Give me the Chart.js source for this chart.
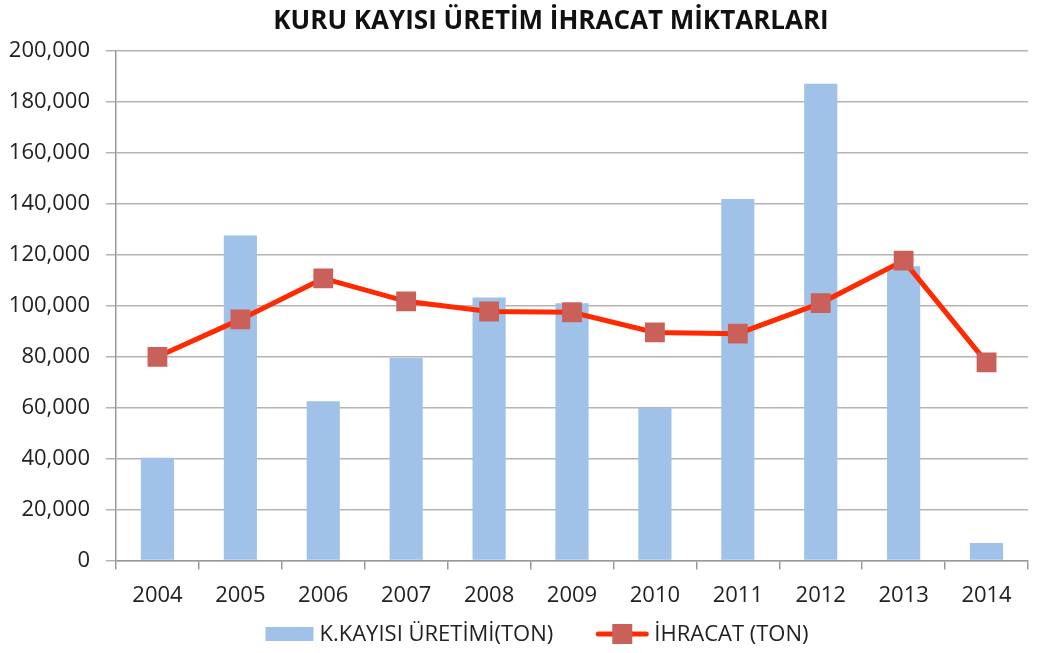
<!DOCTYPE html>
<html><head><meta charset="utf-8">
<script src="https://cdn.jsdelivr.net/npm/chart.js@4.4.0/dist/chart.umd.min.js"></script>
<style>html,body{margin:0;padding:0;background:#fff}#wrap{width:1042px;height:653px}</style>
</head><body><div id="wrap"><canvas id="c" width="1042" height="653"></canvas></div>
<script>
const years = ['2004','2005','2006','2007','2008','2009','2010','2011','2012','2013','2014'];
const uretim = [40400, 127600, 62600, 79500, 103300, 101000, 59900, 142000, 187200, 115600, 6900];
const ihracat = [80000, 94700, 110800, 101800, 97800, 97500, 89600, 89100, 101100, 117800, 77800];
const yTicks = [0,20000,40000,60000,80000,100000,120000,140000,160000,180000,200000];
const seriesNames = ['K.KAYISI ÜRETİMİ(TON)', 'İHRACAT (TON)'];
const titleText = 'KURU KAYISI ÜRETİM İHRACAT MİKTARLARI';

const BAR = '#a0c2e8', LINE = '#ff2a00', MARK = '#c9605a';
const FONT = "'Open Sans', 'DejaVu Sans', sans-serif";

const shiftTitle = {
  id: 'shiftTitle',
  afterLayout(chart) {
    const t = chart.titleBlock;
    if (t) { t.left += 36; t.right += 36; }
  }
};
const customLegend = {
  id: 'customLegend',
  afterDraw(chart) {
    const ctx = chart.ctx;
    ctx.save();
    ctx.font = "22px " + FONT;
    ctx.fillStyle = '#222';
    ctx.textBaseline = 'middle';
    const w0 = ctx.measureText(seriesNames[0]).width;
    const w1 = ctx.measureText(seriesNames[1]).width;
    const total = 48 + 6 + w0 + 43 + 52 + 6 + w1;
    const cy = 634;
    let x = 537 - total / 2;
    ctx.fillStyle = BAR; ctx.fillRect(x, cy - 7, 48, 14);
    x += 54; ctx.fillStyle = '#222'; ctx.fillText(seriesNames[0], x, cy + 1);
    x += w0 + 43;
    ctx.strokeStyle = LINE; ctx.lineWidth = 5; ctx.lineCap = 'round';
    ctx.beginPath(); ctx.moveTo(x + 2, cy); ctx.lineTo(x + 50, cy); ctx.stroke();
    ctx.fillStyle = MARK; ctx.fillRect(x + 16, cy - 10, 20, 20);
    x += 58; ctx.fillStyle = '#222'; ctx.fillText(seriesNames[1], x, cy + 1);
    ctx.restore();
  }
};

new Chart(document.getElementById('c'), {
  data: {
    labels: years,
    datasets: [
      {type:'line', label: seriesNames[1], data: ihracat, borderColor: LINE, borderWidth: 5, backgroundColor: MARK,
       pointStyle:'rect', pointRadius: 14, pointHoverRadius: 14, pointBackgroundColor: MARK, pointBorderWidth: 0, order: 0, tension: 0},
      {type:'bar', label: seriesNames[0], data: uretim, backgroundColor: BAR, borderWidth: 0,
       categoryPercentage: 0.8, barPercentage: 0.5, order: 1}
    ]
  },
  plugins: [shiftTitle, customLegend],
  options: {
    responsive: false, animation: false, devicePixelRatio: 1,
    layout: {padding: {left: 0, right: 12, top: 6, bottom: 31}},
    plugins: {
      title: {display: true, text: titleText, color: '#111',
              font: {family: FONT, size: 26, weight: 'bold'}, padding: {top: 0, bottom: 14}},
      legend: {display: false},
      tooltip: {enabled: false}
    },
    scales: {
      x: {offset: true,
          grid: {offset: true, drawOnChartArea: false, color: '#999', tickLength: 9, lineWidth: 1.5},
          border: {color: '#999', width: 1.5},
          ticks: {color: '#222', font: {family: FONT, size: 22}, padding: 13}},
      y: {min: 0, max: 200000,
          afterBuildTicks: s => { s.ticks = yTicks.map(v => ({value: v})); },
          afterFit: s => { s.width = 116; },
          grid: {color: '#b3b3b3', lineWidth: 1.5, tickLength: 10},
          border: {color: '#999', width: 1.5},
          ticks: {color: '#222', font: {family: FONT, size: 22}, padding: 16,
                  callback: v => v.toLocaleString('en-US')}}
    }
  }
});
</script></body></html>
